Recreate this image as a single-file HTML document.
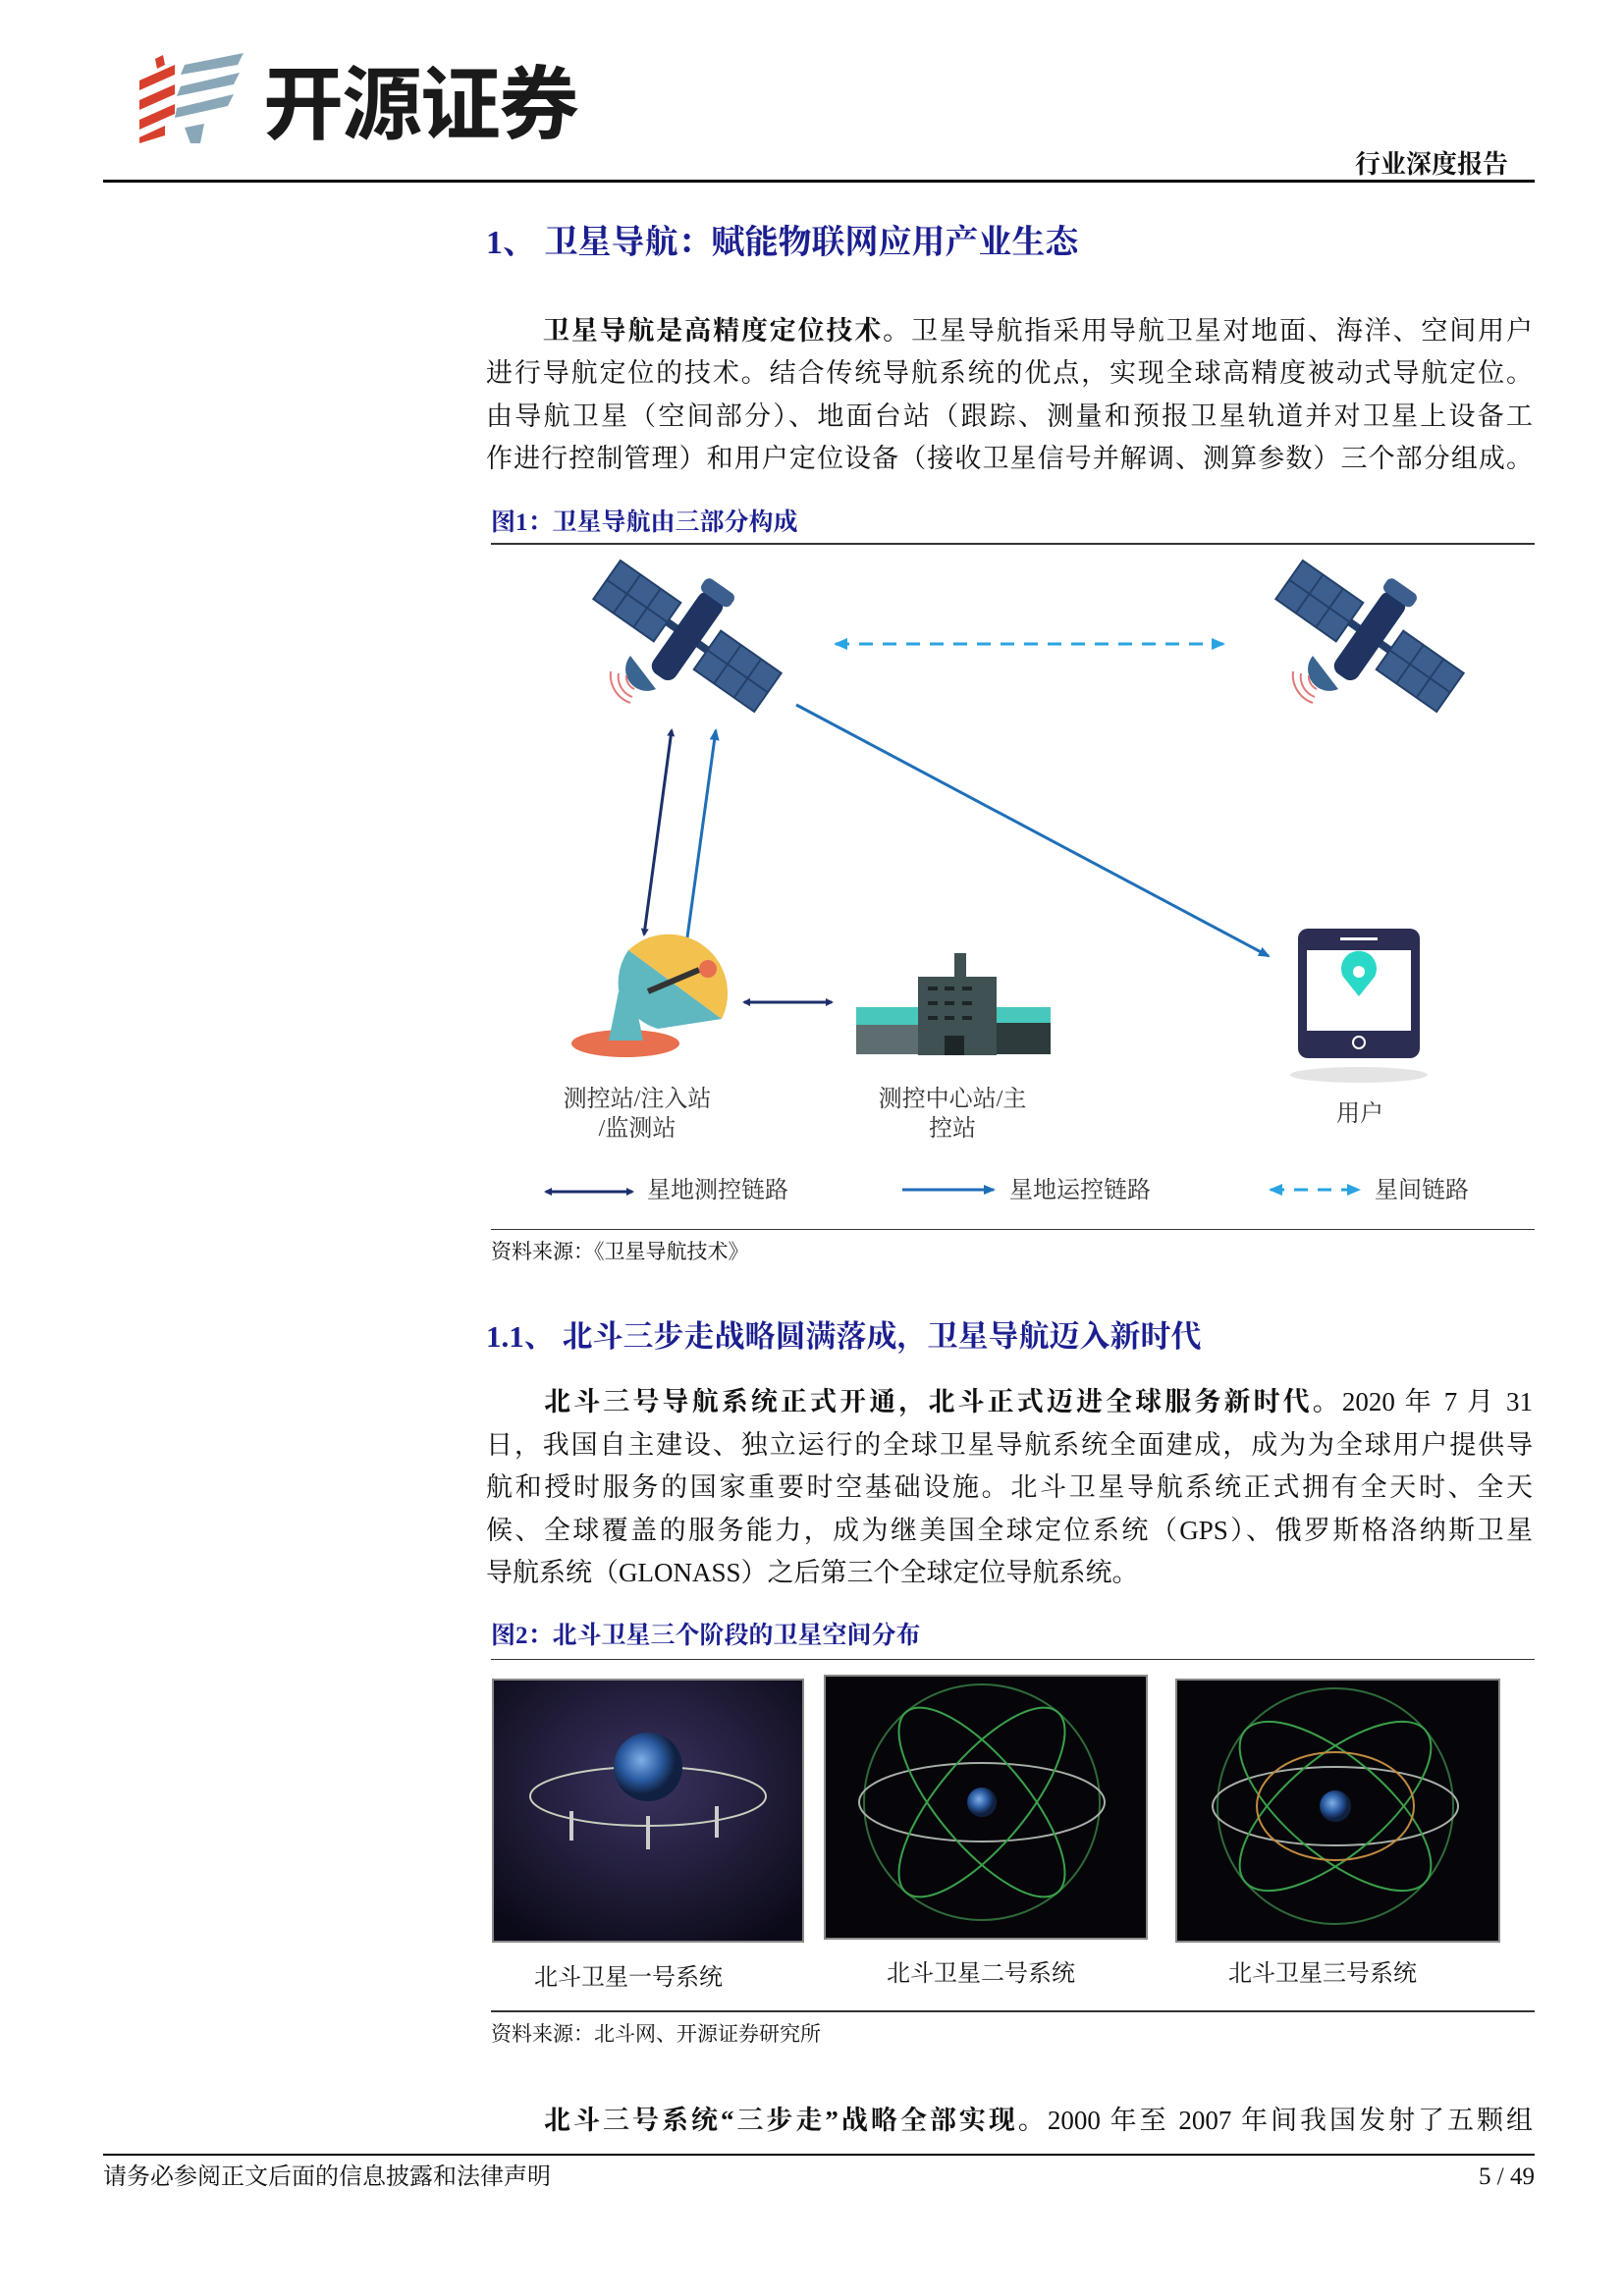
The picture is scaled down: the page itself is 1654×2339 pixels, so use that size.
<!DOCTYPE html>
<html><head><meta charset="utf-8"><style>
body{margin:0;background:#fff;}
#p{position:relative;width:1654px;height:2339px;overflow:hidden;font-family:"Liberation Serif","Noto Serif CJK SC",serif;color:#111;}
.a{position:absolute;white-space:nowrap;}
.ln{position:absolute;left:495px;width:1066px;font-size:27px;text-align:justify;text-align-last:justify;white-space:nowrap;}
.h{color:#1b1f8f;font-weight:bold;font-family:"Liberation Serif","Noto Serif CJK SC",serif;}
.cap{color:#1b1f8f;font-weight:bold;font-size:25px;}
.rule{position:absolute;left:500px;width:1063px;height:2px;background:#333;}
.lbl{font-size:24px;color:#333;text-align:center;}
</style></head><body><div id="p">
<svg class="a" style="left:138px;top:52px" width="120" height="96" viewBox="0 0 120 96">
<g fill="#d8402e"><polygon points="20,8 28,4 30,14 22,18"/><polygon points="4,30 40,14 40,24 4,40"/><polygon points="4,50 40,34 40,44 4,60"/><polygon points="4,70 40,54 40,64 4,80"/><polygon points="4,88 30,76 30,86 4,94"/></g>
<g fill="#8aa7b8"><polygon points="50,14 110,2 104,14 46,24"/><polygon points="46,36 106,22 100,34 42,46"/><polygon points="42,58 100,44 94,56 40,68"/><polygon points="50,78 70,74 66,94 56,94"/></g>
</svg>
<div class="a" style="left:268px;top:52px;font-size:82px;font-weight:bold;font-family:'Noto Sans CJK SC',sans-serif;color:#1a1a1a;line-height:96px;letter-spacing:-2px">开源证券</div>
<div class="a" style="left:1380px;top:152px;font-size:26px;font-weight:bold;line-height:32px">行业深度报告</div>
<div class="a" style="left:105px;top:183px;width:1458px;height:3px;background:#000"></div>

<div class="a h" style="left:495px;top:226px;font-size:34px;line-height:44px">1、 卫星导航：赋能物联网应用产业生态</div>

<div class="ln" style="top:317px;line-height:40px"><span style="display:inline-block;width:56px"></span><b>卫星导航是高精度定位技术。</b>卫星导航指采用导航卫星对地面、海洋、空间用户</div>
<div class="ln" style="top:360px;line-height:40px">进行导航定位的技术。结合传统导航系统的优点，实现全球高精度被动式导航定位。</div>
<div class="ln" style="top:404px;line-height:40px">由导航卫星（空间部分）、地面台站（跟踪、测量和预报卫星轨道并对卫星上设备工</div>
<div class="ln" style="top:447px;line-height:40px">作进行控制管理）和用户定位设备（接收卫星信号并解调、测算参数）三个部分组成。</div>

<div class="a cap" style="left:500px;top:516px;line-height:34px">图1：卫星导航由三部分构成</div>
<div class="rule" style="top:553px"></div>

<svg class="a" style="left:0;top:0" width="1654" height="1300" viewBox="0 0 1654 1300">
<defs>
<marker id="md" markerWidth="8" markerHeight="8" refX="6" refY="4" orient="auto-start-reverse" markerUnits="userSpaceOnUse"><path d="M0,0 L8,4 L0,8z" fill="#1c2f6b"/></marker>
<marker id="ml" markerWidth="12" markerHeight="10" refX="10" refY="5" orient="auto-start-reverse" markerUnits="userSpaceOnUse"><path d="M0,0 L12,5 L0,10z" fill="#1f6fb8"/></marker>
<marker id="mc" markerWidth="14" markerHeight="12" refX="12" refY="6" orient="auto-start-reverse" markerUnits="userSpaceOnUse"><path d="M0,0 L14,6 L0,12z" fill="#2aa3e0"/></marker>
<g id="sat">
<g transform="rotate(35)">
<rect x="-100" y="-24" width="75" height="48" fill="#3c5f8f" stroke="#24406a" stroke-width="2"/>
<rect x="25" y="-24" width="75" height="48" fill="#3c5f8f" stroke="#24406a" stroke-width="2"/>
<path d="M-75,-24V24M-50,-24V24M50,-24V24M75,-24V24M-100,0H-25M25,0H100" stroke="#24406a" stroke-width="2"/>
<rect x="-25" y="-4" width="50" height="8" fill="#24406a"/>
</g>
<g transform="rotate(35)"><rect x="-14" y="-50" width="28" height="100" rx="10" fill="#1f3461"/><rect x="-18" y="-62" width="36" height="16" rx="6" fill="#3c5f8f"/></g>
<path d="M-58,20 a22,22 0 0 0 26,34 z" fill="#3b6591"/>
<path d="M-62,40 a14,14 0 0 0 8,14 M-70,38 a22,22 0 0 0 14,24 M-78,36 a30,30 0 0 0 20,32" stroke="#e07a7a" stroke-width="2" fill="none"/>
</g>
</defs>
<use href="#sat" transform="translate(700,648)"/>
<use href="#sat" transform="translate(1395,648)"/>
<line x1="851" y1="656" x2="1246" y2="656" stroke="#2aa3e0" stroke-width="3" stroke-dasharray="14,10" marker-start="url(#mc)" marker-end="url(#mc)"/>
<line x1="684" y1="744" x2="656" y2="952" stroke="#1c2f6b" stroke-width="3" marker-start="url(#md)" marker-end="url(#md)"/>
<line x1="700" y1="955" x2="729" y2="744" stroke="#1f6fb8" stroke-width="3" marker-end="url(#ml)"/>
<line x1="811" y1="718" x2="1292" y2="974" stroke="#1f6fb8" stroke-width="3" marker-end="url(#ml)"/>
<ellipse cx="637" cy="1063" rx="55" ry="14" fill="#e8704f"/>
<polygon points="620,1060 655,1060 645,1010 630,1010" fill="#5fb7c0"/>
<path d="M640,968 a60,60 0 0 1 95,70 z" fill="#f2c14e"/>
<path d="M640,968 a60,60 0 0 0 -10,40 a60,60 0 0 0 40,40 l65,-10 z" fill="#5fb7c0"/>
<line x1="660" y1="1010" x2="712" y2="988" stroke="#333" stroke-width="6"/>
<circle cx="721" cy="987" r="9" fill="#e8704f"/>
<line x1="758" y1="1021" x2="847" y2="1021" stroke="#1c2f6b" stroke-width="3" marker-start="url(#md)" marker-end="url(#md)"/>
<rect x="872" y="1026" width="72" height="48" fill="#5e6e70"/>
<rect x="872" y="1026" width="72" height="18" fill="#48c8bd"/>
<rect x="1008" y="1026" width="62" height="48" fill="#2d3b3c"/>
<rect x="1008" y="1026" width="62" height="16" fill="#48c8bd"/>
<rect x="935" y="995" width="80" height="80" fill="#3f5152"/>
<rect x="972" y="971" width="12" height="26" fill="#3f5152"/>
<g fill="#1d2627"><rect x="945" y="1005" width="10" height="4"/><rect x="962" y="1005" width="10" height="4"/><rect x="980" y="1005" width="10" height="4"/><rect x="945" y="1020" width="10" height="4"/><rect x="962" y="1020" width="10" height="4"/><rect x="980" y="1020" width="10" height="4"/><rect x="945" y="1035" width="10" height="4"/><rect x="962" y="1035" width="10" height="4"/><rect x="980" y="1035" width="10" height="4"/><rect x="962" y="1055" width="20" height="20"/></g>
<ellipse cx="1384" cy="1095" rx="70" ry="8" fill="#e4e4e4"/>
<rect x="1322" y="946" width="124" height="132" rx="10" fill="#2b2d52"/>
<rect x="1331" y="968" width="106" height="82" fill="#fff"/>
<rect x="1365" y="955" width="38" height="3" fill="#fff"/>
<circle cx="1384" cy="1062" r="6" fill="none" stroke="#fff" stroke-width="2"/>
<path d="M1384,1015 L1368,995 a18,18 0 1 1 32,0 z" fill="#2ad8c8"/>
<circle cx="1384" cy="990" r="6" fill="#fff"/>
<line x1="556" y1="1214" x2="644" y2="1214" stroke="#1c2f6b" stroke-width="3" marker-start="url(#md)" marker-end="url(#md)"/>
<line x1="919" y1="1212" x2="1012" y2="1212" stroke="#1f6fb8" stroke-width="3" marker-end="url(#ml)"/>
<line x1="1294" y1="1212" x2="1384" y2="1212" stroke="#2aa3e0" stroke-width="3" stroke-dasharray="14,10" marker-start="url(#mc)" marker-end="url(#mc)"/>
</svg>
<div class="a lbl" style="left:549px;width:200px;top:1105px;line-height:30px">测控站/注入站<br>/监测站</div>
<div class="a lbl" style="left:860px;width:220px;top:1105px;line-height:30px">测控中心站/主<br>控站</div>
<div class="a lbl" style="left:1335px;width:100px;top:1120px;line-height:30px">用户</div>
<div class="a lbl" style="left:659px;top:1198px;line-height:30px">星地测控链路</div>
<div class="a lbl" style="left:1028px;top:1198px;line-height:30px">星地运控链路</div>
<div class="a lbl" style="left:1400px;top:1198px;line-height:30px">星间链路</div>
<div class="rule" style="top:1252px;height:1px"></div>
<div class="a" style="left:500px;top:1261px;font-size:21px;line-height:28px">资料来源：《卫星导航技术》</div>

<div class="a h" style="left:495px;top:1342px;font-size:31px;line-height:40px">1.1、 北斗三步走战略圆满落成，卫星导航迈入新时代</div>
<div class="ln" style="top:1408px;line-height:40px"><span style="display:inline-block;width:56px"></span><b>北斗三号导航系统正式开通，北斗正式迈进全球服务新时代。</b>2020 年 7 月 31</div>
<div class="ln" style="top:1452px;line-height:40px">日，我国自主建设、独立运行的全球卫星导航系统全面建成，成为为全球用户提供导</div>
<div class="ln" style="top:1495px;line-height:40px">航和授时服务的国家重要时空基础设施。北斗卫星导航系统正式拥有全天时、全天</div>
<div class="ln" style="top:1539px;line-height:40px">候、全球覆盖的服务能力，成为继美国全球定位系统（GPS）、俄罗斯格洛纳斯卫星</div>
<div class="ln" style="top:1582px;line-height:40px;text-align-last:left">导航系统（GLONASS）之后第三个全球定位导航系统。</div>

<div class="a cap" style="left:500px;top:1650px;line-height:34px">图2：北斗卫星三个阶段的卫星空间分布</div>
<div class="rule" style="top:1690px;height:1px"></div>

<svg class="a" style="left:0;top:0" width="1654" height="2000" viewBox="0 0 1654 2000">
<defs><radialGradient id="sp" cx="50%" cy="40%" r="70%"><stop offset="0" stop-color="#3a3360"/><stop offset="1" stop-color="#0b0a18"/></radialGradient>
<radialGradient id="ea" cx="40%" cy="40%"><stop offset="0" stop-color="#7fb0e8"/><stop offset="0.6" stop-color="#2a5aa0"/><stop offset="1" stop-color="#102040"/></radialGradient></defs>
<rect x="502" y="1711" width="316" height="267" fill="url(#sp)" stroke="#888" stroke-width="2"/>
<ellipse cx="660" cy="1830" rx="120" ry="30" fill="none" stroke="#c8d0c0" stroke-width="2"/>
<circle cx="660" cy="1800" r="35" fill="url(#ea)"/>
<g fill="#ccc"><rect x="580" y="1845" width="4" height="30"/><rect x="658" y="1850" width="4" height="34"/><rect x="728" y="1840" width="4" height="32"/></g>
<rect x="840" y="1707" width="328" height="268" fill="#06060a" stroke="#888" stroke-width="2"/>
<g fill="none" stroke-width="2"><circle cx="1000" cy="1836" r="120" stroke="#2f6a3a"/><ellipse cx="1000" cy="1836" rx="125" ry="40" stroke="#a8b0a8"/><ellipse cx="1000" cy="1836" rx="120" ry="45" transform="rotate(50 1000 1836)" stroke="#3aa04a"/><ellipse cx="1000" cy="1836" rx="120" ry="45" transform="rotate(-50 1000 1836)" stroke="#3aa04a"/></g>
<circle cx="1000" cy="1836" r="15" fill="url(#ea)"/>
<rect x="1198" y="1711" width="329" height="267" fill="#06060a" stroke="#888" stroke-width="2"/>
<g fill="none" stroke-width="2"><circle cx="1360" cy="1840" r="120" stroke="#2f6a3a"/><ellipse cx="1360" cy="1840" rx="125" ry="40" stroke="#a8b0a8"/><ellipse cx="1360" cy="1840" rx="120" ry="50" transform="rotate(40 1360 1840)" stroke="#3aa04a"/><ellipse cx="1360" cy="1840" rx="120" ry="50" transform="rotate(-40 1360 1840)" stroke="#3aa04a"/><ellipse cx="1360" cy="1840" rx="80" ry="55" stroke="#c08a40"/></g>
<circle cx="1360" cy="1840" r="16" fill="url(#ea)"/>
</svg>
<div class="a" style="left:540px;width:200px;top:1999px;font-size:24px;text-align:center;line-height:32px">北斗卫星一号系统</div>
<div class="a" style="left:899px;width:200px;top:1995px;font-size:24px;text-align:center;line-height:32px">北斗卫星二号系统</div>
<div class="a" style="left:1247px;width:200px;top:1995px;font-size:24px;text-align:center;line-height:32px">北斗卫星三号系统</div>
<div class="rule" style="top:2048px;height:2px"></div>
<div class="a" style="left:500px;top:2058px;font-size:21px;line-height:28px">资料来源：北斗网、开源证券研究所</div>

<div class="ln" style="top:2140px;line-height:40px"><span style="display:inline-block;width:56px"></span><b>北斗三号系统“三步走”战略全部实现。</b>2000 年至 2007 年间我国发射了五颗组</div>

<div class="a" style="left:105px;top:2194px;width:1458px;height:2px;background:#000"></div>
<div class="a" style="left:105px;top:2202px;font-size:24px;line-height:32px">请务必参阅正文后面的信息披露和法律声明</div>
<div class="a" style="right:91px;top:2202px;font-size:25px;line-height:32px">5 / 49</div>
</div></body></html>
